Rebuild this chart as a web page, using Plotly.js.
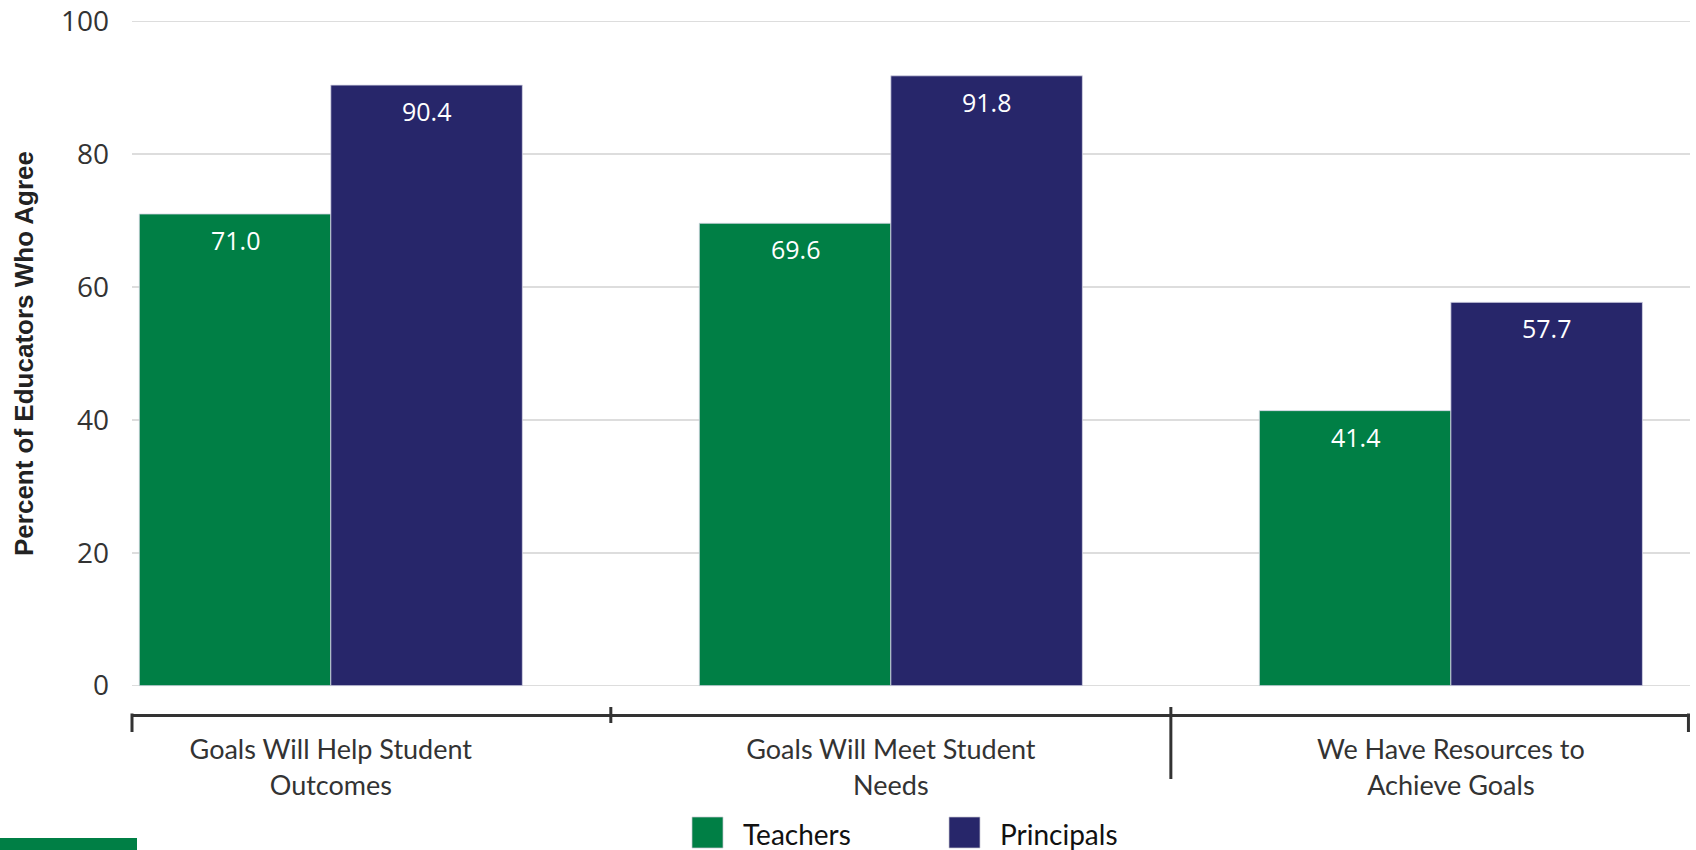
<!DOCTYPE html>
<html>
<head>
<meta charset="utf-8">
<script src="https://cdn.plot.ly/plotly-3.0.1.min.js"></script>
<style>
  html, body { margin: 0; padding: 0; background: #ffffff; }
  #chart { width: 1696px; height: 850px; }
</style>
</head>
<body>
<div id="chart"></div>
<script>
// Survey items shown along the bottom axis
const categories = [
  'Goals Will Help Student<br>Outcomes',
  'Goals Will Meet Student<br>Needs',
  'We Have Resources to<br>Achieve Goals'
];
const seriesNames = ['Teachers', 'Principals'];
const teachers = [71.0, 69.6, 41.4];
const principals = [90.4, 91.8, 57.7];
const yTickVals = [0, 20, 40, 60, 80, 100];
const yTitle = 'Percent of Educators Who Agree';

const colors = ['#007F45', '#27266A'];
const seriesValues = [teachers, principals];

const BAR_GAP = 0.316;               // gap between category groups
const barWidth = (1 - BAR_GAP) / 2;  // width of one bar in category units

const traces = seriesValues.map((vals, j) => ({
  type: 'bar',
  name: seriesNames[j],
  x: categories,
  y: vals,
  marker: { color: colors[j], line: { width: 1, color: 'rgba(215,215,230,0.8)' } },
  showlegend: false,
  hoverinfo: 'skip'
}));

// Value labels sit just inside the top of each bar
const valueLabels = [];
seriesValues.forEach((vals, j) => {
  vals.forEach((v, i) => {
    valueLabels.push({
      xref: 'x', yref: 'y',
      x: i + (j - 0.5) * barWidth,
      y: v,
      yshift: -26,
      yanchor: 'middle', xanchor: 'center',
      text: v.toFixed(1),
      showarrow: false,
      font: { family: 'Open Sans, sans-serif', size: 25, color: '#ffffff' }
    });
  });
});

// Rotated y-axis title
const titleNote = {
  xref: 'paper', yref: 'paper', x: 0, y: 0,
  xshift: -108, yshift: 361,
  xanchor: 'center', yanchor: 'middle',
  textangle: -90,
  text: '<b>' + yTitle + '</b>',
  showarrow: false,
  font: { family: 'Liberation Sans, Arial, sans-serif', size: 26, color: '#222222' }
};

// Hand-built legend: large swatches with labels underneath the axis
const legendX = [560, 817];
const legendShapes = seriesNames.map((n, j) => ({
  type: 'rect', xref: 'paper', yref: 'paper',
  xsizemode: 'pixel', ysizemode: 'pixel',
  xanchor: 0, yanchor: 0,
  x0: legendX[j], x1: legendX[j] + 31,
  y0: -102, y1: -133,
  fillcolor: colors[j], line: { width: 1, color: 'rgba(200,200,210,0.7)' }
}));
const legendText = seriesNames.map((n, j) => ({
  xref: 'paper', yref: 'paper', x: 0, y: 0,
  xshift: legendX[j] + 49, yshift: -119,
  xanchor: 'left', yanchor: 'middle',
  text: n, showarrow: false,
  font: { family: 'Lato, sans-serif', size: 28, color: '#111111' }
}));

// Bracket ticks on the category axis line
const tickLine = { color: '#333333', width: 3 };
const bracketShapes = [
  { type: 'line', xref: 'paper', yref: 'paper', ysizemode: 'pixel', yanchor: 0,
    x0: 0, x1: 0, y0: 1.5, y1: -17, line: tickLine },
  { type: 'line', xref: 'paper', yref: 'paper', ysizemode: 'pixel', yanchor: 0,
    x0: 0.999, x1: 0.999, y0: 1.5, y1: -17, line: tickLine },
  { type: 'line', xref: 'x', yref: 'paper', ysizemode: 'pixel', yanchor: 0,
    x0: 0.5, x1: 0.5, y0: 8, y1: -8, line: tickLine },
  { type: 'line', xref: 'x', yref: 'paper', ysizemode: 'pixel', yanchor: 0,
    x0: 1.5, x1: 1.5, y0: 8, y1: -64, line: tickLine }
];

// Accent strip at the lower-left corner
const accent = {
  type: 'rect', xref: 'paper', yref: 'paper',
  xsizemode: 'pixel', ysizemode: 'pixel', xanchor: 0, yanchor: 0,
  x0: -132, x1: 5, y0: -123, y1: -140,
  fillcolor: '#007F45', line: { width: 0 }
};

const layout = {
  width: 1696, height: 850,
  margin: { l: 132, r: 6, t: 20, b: 135 },
  paper_bgcolor: '#ffffff', plot_bgcolor: '#ffffff',
  barmode: 'group',
  bargap: BAR_GAP,
  bargroupgap: 0,
  showlegend: false,
  xaxis: {
    type: 'category',
    range: [-0.355, 2.427],
    anchor: 'free', position: 0,
    showline: true, linewidth: 3, linecolor: '#333333',
    ticks: '', showgrid: false, zeroline: false,
    ticklabelstandoff: 10,
    tickfont: { family: 'Lato, sans-serif', size: 27, color: '#333333' },
    fixedrange: true
  },
  yaxis: {
    domain: [0.0403, 1],
    range: [-0.2, 100.2],
    tickvals: yTickVals,
    ticktext: yTickVals.map(String),
    showgrid: true, gridcolor: '#dddddd', gridwidth: 1.5,
    zeroline: false, showline: false, ticks: '',
    ticklabelstandoff: 22,
    tickfont: { family: 'Open Sans, sans-serif', size: 28, color: '#333333' },
    fixedrange: true
  },
  shapes: [...bracketShapes, accent, ...legendShapes],
  annotations: [...valueLabels, titleNote, ...legendText]
};

Plotly.newPlot('chart', traces, layout, { displayModeBar: false, staticPlot: true });
</script>
</body>
</html>
